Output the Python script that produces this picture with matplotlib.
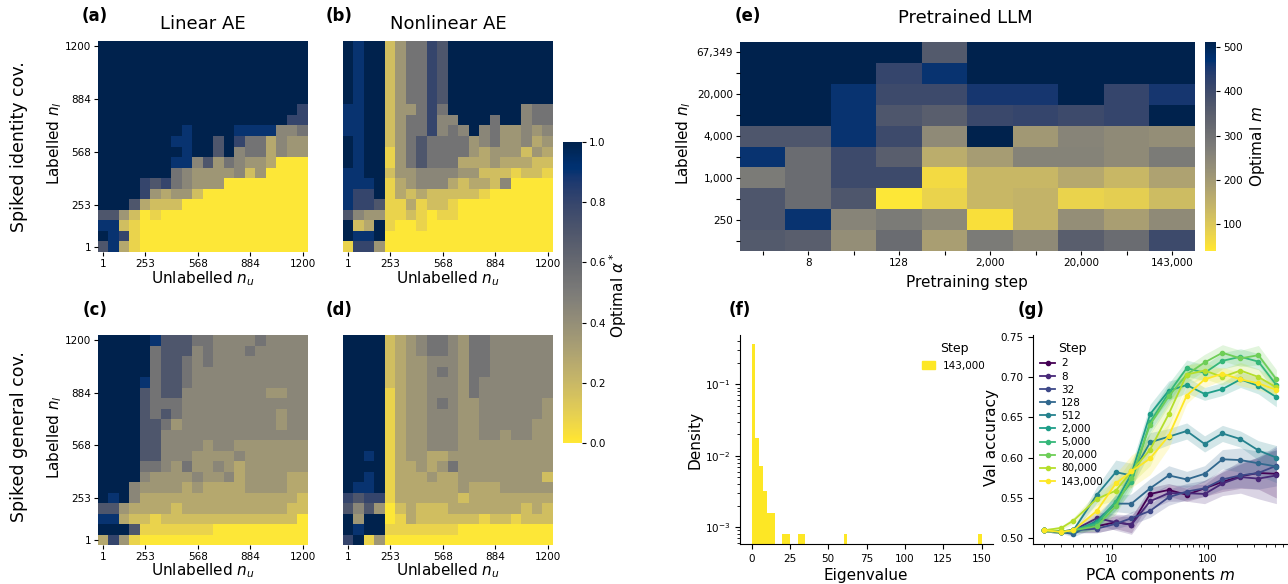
import numpy as np
import matplotlib
matplotlib.use("Agg")
import matplotlib.pyplot as plt
from matplotlib.patches import Patch
from matplotlib.ticker import NullFormatter

# ---------------------------------------
# data
# ---------------------------------------
# optimal alpha* grids, rows from n_l = 1200 (top) down to n_l = 1 (bottom)
# each character is a colour level, see alpha_levels
n_values = [1, 253, 568, 884, 1200]
n_value_cells = [0, 4, 9, 14, 19]
alpha_levels = {"0": 0.0, "1": 0.08, "2": 0.17, "3": 0.27, "4": 0.36, "5": 0.44,
                "6": 0.54, "7": 0.7, "8": 0.8, "9": 0.9, "X": 1.0}

alpha_linear_identity = [
    "XXXXXXXXXXXXXXXXXXXX",
    "XXXXXXXXXXXXXXXXXXXX",
    "XXXXXXXXXXXXXXXXXXXX",
    "XXXXXXXXXXXXXXXXXXXX",
    "XXXXXXXXXXXXXXXXXXXX",
    "XXXXXXXXXXXXXXXXXXXX",
    "XXXXXXXXXXXXXXXXXXX8",
    "XXXXXXXXXXXXXXXXXX88",
    "XXXXXXXX9XXXX9999556",
    "XXXXXXX99XX7X8663544",
    "XXXXXXXX9XX7X5663544",
    "XXXXXXX9957465443000",
    "XXXXXXX6544445240000",
    "XXXX8786544400000000",
    "XXXX8434420000000000",
    "XXX73222000000000000",
    "77420100000000000000",
    "99210000000000000000",
    "X9810000000000000000",
    "79310000000000000000",
]

alpha_nonlinear_identity = [
    "X9XX246687XXXXXXXXXX",
    "X9XX246687XXXXXXXXXX",
    "X9XX246687XXXXXXXXXX",
    "X9XX246687XXXXXXXXXX",
    "X9XX246687XXXXXXXXXX",
    "X9XX246687XXXXXXXXXX",
    "99XX244686XXXXXXX566",
    "99XX2466855XXX6XX566",
    "99XX24668565X5644545",
    "X9XX2467666645644534",
    "X9XX1467666643444243",
    "X9XX1467666333433322",
    "99XX2445555442221221",
    "999X1345553233250000",
    "988X1323222221000000",
    "98871131221000000000",
    "75441121011000000000",
    "X23X1001000000000000",
    "X99X0000000000000000",
    "18840000000000000000",
]

alpha_linear_general = [
    "XXXXX977766555565555",
    "XXXXX677756555655555",
    "XXXXX677656555555555",
    "XXXXX677655555555555",
    "XXXX9677655555555555",
    "XXXX7677555555554455",
    "XXXX7666555555555555",
    "XXXX7676555555555455",
    "XXXX7764555555555455",
    "XXXX7755555555555555",
    "XXXX7755554554444444",
    "XXXX7755544445444444",
    "XXXX6654644543444444",
    "XXXX5444454453444433",
    "XXX54444343333444433",
    "X9X53333333333333332",
    "77433332333333333322",
    "99322122222222222220",
    "XXX71111111000000000",
    "38410000000000000000",
]

alpha_nonlinear_general = [
    "XXXX2345665466555555",
    "XXXX2345665466555555",
    "XXXX2344555466555555",
    "XXXX2344565466555555",
    "XXXX2344555465555555",
    "XXXX1344555465555555",
    "XXXX1344565445555554",
    "XXXX1344555445555554",
    "XXXX1344555445555544",
    "XXXX1344555445545544",
    "XXXX1344555444444444",
    "XX9X1344334444444444",
    "XXXX1334346444444444",
    "XX9X1333433444444442",
    "X99X1333333433344444",
    "87881333333233333333",
    "75740232223333333232",
    "X4XX0132222221221222",
    "X9XX1111111000000000",
    "8X140000000000000000",
]

# pretrained LLM: optimal m, rows from smallest labelled set (bottom) to largest
pretrain_steps = [2, 8, 32, 128, 512, 2000, 5000, 20000, 80000, 143000]
labelled_sizes = [125, 250, 500, 1000, 2000, 4000, 10000, 20000, 40000, 67349]
optimal_m = [
    [361, 351, 228, 313, 190, 276, 238, 351, 313, 403],
    [370, 465, 252, 276, 242, 53, 143, 228, 190, 238],
    [370, 313, 370, 39, 77, 134, 143, 77, 86, 124],
    [276, 313, 403, 403, 63, 134, 134, 167, 134, 181],
    [465, 313, 403, 351, 157, 195, 257, 257, 238, 276],
    [370, 370, 465, 403, 238, 512, 205, 252, 238, 228],
    [512, 512, 465, 370, 351, 408, 417, 403, 417, 512],
    [512, 512, 465, 403, 403, 455, 455, 512, 417, 455],
    [512, 512, 512, 417, 465, 512, 512, 512, 512, 512],
    [512, 512, 512, 512, 361, 512, 512, 512, 512, 512],
]

# eigenvalue histogram (step 143,000): bin centres and counts, bin width 2.5
eig_bin_width = 2.5
eig_bin_centres = [1.25, 3.75, 6.25, 8.75, 11.25, 13.75, 21.25, 23.75, 31.25, 33.75, 61.25, 148.75]
eig_counts = [455, 22, 9, 4, 2, 2, 1, 1, 1, 1, 1, 1]

# validation accuracy vs PCA components
pca_components = [2, 3, 4, 7, 11, 16, 25, 39, 60, 92, 141, 217, 333, 512]
val_accuracy = [
    [0.510, 0.508, 0.510, 0.515, 0.520, 0.517, 0.555, 0.560, 0.554, 0.562, 0.570, 0.577, 0.581, 0.580],
    [0.510, 0.508, 0.510, 0.525, 0.520, 0.517, 0.546, 0.556, 0.556, 0.555, 0.568, 0.576, 0.574, 0.578],
    [0.510, 0.508, 0.510, 0.512, 0.518, 0.525, 0.534, 0.551, 0.558, 0.562, 0.573, 0.578, 0.581, 0.590],
    [0.510, 0.508, 0.505, 0.522, 0.543, 0.543, 0.562, 0.578, 0.573, 0.580, 0.598, 0.597, 0.593, 0.589],
    [0.510, 0.508, 0.510, 0.554, 0.582, 0.578, 0.619, 0.626, 0.633, 0.617, 0.630, 0.623, 0.609, 0.600],
    [0.510, 0.508, 0.510, 0.520, 0.545, 0.580, 0.654, 0.683, 0.690, 0.679, 0.685, 0.697, 0.689, 0.675],
    [0.510, 0.508, 0.510, 0.518, 0.545, 0.570, 0.644, 0.680, 0.711, 0.705, 0.720, 0.725, 0.719, 0.690],
    [0.510, 0.508, 0.510, 0.515, 0.540, 0.575, 0.641, 0.676, 0.703, 0.718, 0.730, 0.723, 0.727, 0.697],
    [0.510, 0.513, 0.522, 0.549, 0.559, 0.583, 0.610, 0.654, 0.703, 0.708, 0.700, 0.708, 0.700, 0.687],
    [0.510, 0.508, 0.510, 0.534, 0.568, 0.583, 0.599, 0.627, 0.677, 0.697, 0.704, 0.697, 0.692, 0.684],
]
val_spread = [
    [0.002, 0.002, 0.003, 0.008, 0.008, 0.010, 0.008, 0.008, 0.008, 0.010, 0.012, 0.015, 0.020, 0.030],
    [0.002, 0.002, 0.003, 0.008, 0.010, 0.012, 0.010, 0.010, 0.010, 0.012, 0.015, 0.020, 0.025, 0.035],
    [0.002, 0.002, 0.003, 0.005, 0.006, 0.008, 0.008, 0.010, 0.010, 0.010, 0.012, 0.015, 0.020, 0.025],
    [0.002, 0.002, 0.003, 0.008, 0.010, 0.012, 0.012, 0.012, 0.010, 0.010, 0.012, 0.015, 0.015, 0.020],
    [0.002, 0.002, 0.003, 0.010, 0.015, 0.015, 0.012, 0.010, 0.010, 0.010, 0.010, 0.010, 0.012, 0.015],
    [0.002, 0.002, 0.003, 0.006, 0.010, 0.012, 0.012, 0.012, 0.010, 0.008, 0.008, 0.010, 0.010, 0.012],
    [0.002, 0.002, 0.003, 0.006, 0.010, 0.012, 0.012, 0.012, 0.010, 0.010, 0.010, 0.010, 0.010, 0.010],
    [0.002, 0.002, 0.003, 0.006, 0.010, 0.012, 0.012, 0.012, 0.010, 0.010, 0.010, 0.010, 0.012, 0.012],
    [0.002, 0.002, 0.004, 0.008, 0.012, 0.015, 0.020, 0.015, 0.012, 0.010, 0.010, 0.010, 0.010, 0.010],
    [0.002, 0.002, 0.003, 0.008, 0.012, 0.020, 0.020, 0.015, 0.010, 0.010, 0.008, 0.008, 0.008, 0.008],
]

# ---------------------------------------
# layout helpers (pixel coordinates, y from top)
# ---------------------------------------
W, H = 1288, 584
TICK = 7.5
LAB = 11

fig = plt.figure(figsize=(W / 100, H / 100), dpi=100)


def px_axes(x0, y0, x1, y1):
    return fig.add_axes([x0 / W, 1 - y1 / H, (x1 - x0) / W, (y1 - y0) / H])


def px_text(x, y, s, **kw):
    fig.text(x / W, 1 - y / H, s, **kw)


def vlabel(x, y, s, size=LAB):
    # rotated label; x is the baseline position
    px_text(x, y, s, rotation=90, rotation_mode="anchor", ha="center", va="baseline", fontsize=size)


def hlabel(x, y, s, size=LAB, **kw):
    px_text(x, y, s, ha="center", va="baseline", fontsize=size, **kw)


def alpha_heatmap(box, rows, show_y):
    ax = px_axes(*box)
    grid = np.array([[alpha_levels[c] for c in r] for r in rows])[::-1]
    im = ax.imshow(grid, cmap="cividis_r", vmin=0, vmax=1, origin="lower",
                   extent=(0, 20, 0, 20), aspect="auto", interpolation="nearest")
    pos = [i + 0.5 for i in n_value_cells]
    ax.set_xticks(pos, [str(v) for v in n_values])
    if show_y:
        ax.set_yticks(pos, [str(v) for v in n_values])
    else:
        ax.set_yticks([])
    ax.tick_params(labelsize=TICK, length=3, width=0.8, pad=2)
    for s in ax.spines.values():
        s.set_visible(False)
    return im


# ---------------------------------------
# (a)-(d) optimal alpha heatmaps
# ---------------------------------------
im_a = alpha_heatmap((98, 41, 308, 252), alpha_linear_identity, True)
alpha_heatmap((343, 41, 553, 252), alpha_nonlinear_identity, False)
alpha_heatmap((98, 335, 308, 545), alpha_linear_general, True)
alpha_heatmap((343, 335, 553, 545), alpha_nonlinear_general, False)

cax_a = px_axes(563, 142, 582, 443)
cb_a = fig.colorbar(im_a, cax=cax_a)
cb_a.outline.set_visible(False)
cb_a.set_ticks([0.0, 0.2, 0.4, 0.6, 0.8, 1.0])
cax_a.tick_params(labelsize=TICK, length=3, width=0.8, pad=2)
vlabel(624, 295, r"Optimal $\alpha^*$")

for x in (203, 448):
    hlabel(x, 283, r"Unlabelled $n_u$")
    hlabel(x, 575, r"Unlabelled $n_u$")
vlabel(59, 143, r"Labelled $n_l$")
vlabel(59, 437, r"Labelled $n_l$")
vlabel(24, 147, "Spiked identity cov.", size=12.5)
vlabel(24, 437, "Spiked general cov.", size=12.5)

hlabel(203, 29, "Linear AE", size=13)
hlabel(448, 29, "Nonlinear AE", size=13)
hlabel(95, 21, "(a)", size=12, fontweight="bold")
hlabel(339, 21, "(b)", size=12, fontweight="bold")
hlabel(95, 315, "(c)", size=12, fontweight="bold")
hlabel(339, 315, "(d)", size=12, fontweight="bold")

# ---------------------------------------
# (e) pretrained LLM heatmap
# ---------------------------------------
ax_e = px_axes(740, 42, 1195, 251)
m_grid = np.array(optimal_m)
im_e = ax_e.imshow(m_grid, cmap="cividis_r", vmin=m_grid.min(), vmax=m_grid.max(),
                   origin="lower", extent=(0, 10, 0, 10), aspect="auto", interpolation="nearest")
ax_e.set_xticks(np.arange(10) + 0.5, [f"{s:,}" if i % 2 else "" for i, s in enumerate(pretrain_steps)])
ax_e.set_yticks(np.arange(10) + 0.5, [f"{n:,}" if i % 2 else "" for i, n in enumerate(labelled_sizes)])
ax_e.tick_params(labelsize=TICK, length=3, width=0.8, pad=2)
for s in ax_e.spines.values():
    s.set_visible(False)

cax_e = px_axes(1205, 42, 1216, 251)
cb_e = fig.colorbar(im_e, cax=cax_e)
cb_e.outline.set_visible(False)
cb_e.set_ticks([100, 200, 300, 400, 500])
cax_e.tick_params(labelsize=TICK, length=3, width=0.8, pad=2)
vlabel(1262, 147, r"Optimal $m$")

hlabel(967, 287, "Pretraining step")
vlabel(688, 143, r"Labelled $n_l$")
hlabel(965, 23, "Pretrained LLM", size=13)
hlabel(748, 21, "(e)", size=12, fontweight="bold")

# ---------------------------------------
# (f) eigenvalue histogram
# ---------------------------------------
viridis = plt.cm.viridis
ax_f = px_axes(740, 335, 993, 544)
edges = np.arange(0, 150 + eig_bin_width, eig_bin_width)
ax_f.hist(eig_bin_centres, bins=edges, weights=eig_counts, density=True,
          color=viridis(1.0), log=True)
ax_f.set_xlim(-7.5, 157.5)
ax_f.set_ylim(5.8e-4, 0.49)
ax_f.set_xticks([0, 25, 50, 75, 100, 125, 150])
ax_f.tick_params(labelsize=TICK, width=0.8)
ax_f.spines["top"].set_visible(False)
ax_f.spines["right"].set_visible(False)
ax_f.legend(handles=[Patch(color=viridis(1.0), label="143,000")], title="Step",
            loc="upper right", bbox_to_anchor=(1.0, 1.0), frameon=False,
            fontsize=TICK, title_fontsize=9, handlelength=1.2, borderaxespad=0.3)
hlabel(866, 580, "Eigenvalue")
vlabel(700, 440, "Density")
hlabel(740, 315, "(f)", size=12, fontweight="bold")

# ---------------------------------------
# (g) validation accuracy
# ---------------------------------------
ax_g = px_axes(1033, 335, 1288, 544)
colors = viridis(np.linspace(0, 1, len(pretrain_steps)))
for step, acc, spread, c in zip(pretrain_steps, val_accuracy, val_spread, colors):
    acc = np.array(acc)
    spread = np.array(spread)
    ax_g.fill_between(pca_components, acc - spread, acc + spread, color=c, alpha=0.2, lw=0)
    ax_g.plot(pca_components, acc, marker="o", ms=3, lw=1.3, color=c, label=f"{step:,}")
ax_g.set_xscale("log")
ax_g.set_xlim(1.52, 676)
ax_g.set_ylim(0.493, 0.752)
ax_g.set_xticks([10, 100], ["10", "100"])
ax_g.xaxis.set_minor_formatter(NullFormatter())
ax_g.set_yticks([0.50, 0.55, 0.60, 0.65, 0.70, 0.75])
ax_g.tick_params(labelsize=TICK, width=0.8)
ax_g.tick_params(which="minor", width=0.6)
ax_g.spines["top"].set_visible(False)
ax_g.spines["right"].set_visible(False)
ax_g.legend(title="Step", loc="upper left", bbox_to_anchor=(0.0, 1.0), frameon=False,
            fontsize=TICK, title_fontsize=9, handlelength=1.4, labelspacing=0.3,
            handletextpad=0.6, borderaxespad=0.3)
hlabel(1160, 580, r"PCA components $m$")
vlabel(996, 438, "Val accuracy")
hlabel(1031, 315, "(g)", size=12, fontweight="bold")

fig.savefig("out.png", dpi=100)
